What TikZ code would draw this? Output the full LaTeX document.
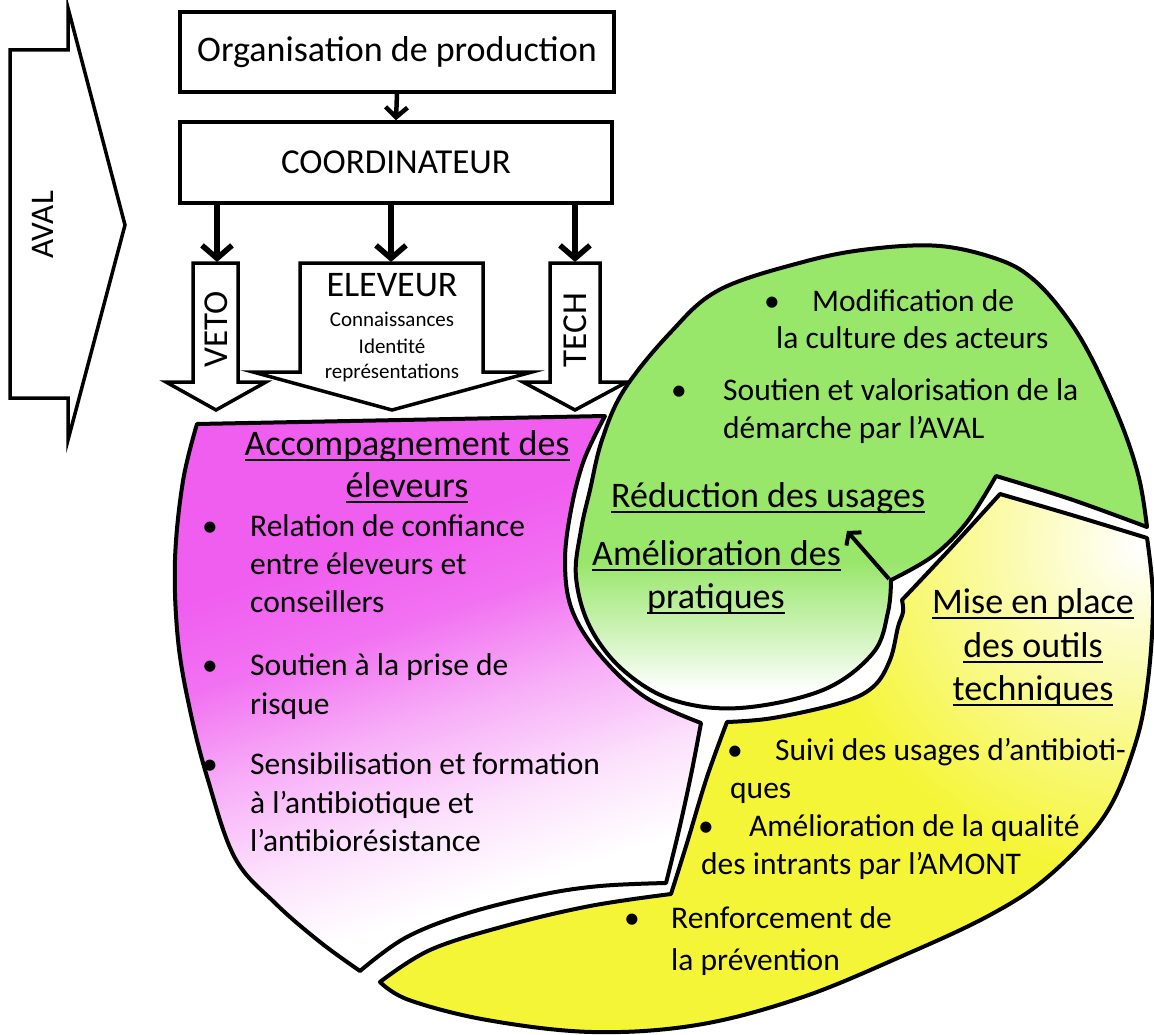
\documentclass[tikz,border=0pt]{standalone}
\usepackage{fontspec}
\setmainfont{Carlito}
\usetikzlibrary{arrows.meta}
\definecolor{mag}{RGB}{240,94,240}
\definecolor{grn}{RGB}{152,230,106}
\definecolor{ylw}{RGB}{245,245,55}
\pgfdeclareverticalshading{magfade}{100bp}{color(0bp)=(white); color(31bp)=(white); color(39bp)=(mag!18!white); color(48bp)=(mag!50!white); color(57bp)=(mag!88!white); color(65bp)=(mag); color(100bp)=(mag)}
\pgfdeclareverticalshading{grnfade}{100bp}{color(0bp)=(white); color(27bp)=(white); color(33bp)=(grn!45!white); color(41bp)=(grn); color(100bp)=(grn)}
\newcommand\myul[1]{\setbox0\hbox{#1}\rlap{\rule[-0.17em]{\wd0}{0.07em}}#1}
\newcommand\magpath{(197,424) -- (605,416)
 -- plot[smooth,tension=0.6] coordinates {(605,416) (584,460) (571,510) (565,562) (572,610) (600,655) (645,697) (701,723)}
 -- plot[smooth,tension=0.6] coordinates {(701,723) (691,775) (679,830) (666,883)}
 -- plot[smooth,tension=0.6] coordinates {(666,883) (600,886) (540,895) (465,914) (405,938) (360,971)}
 -- plot[smooth,tension=0.6] coordinates {(360,971) (320,942) (275,903) (235,858) (208,780) (190,710) (178,640) (175,560) (183,481) (197,424)}
 -- cycle}
\newcommand\grnpath{(1147,527)
 -- plot[smooth,tension=0.6] coordinates {(1147,527) (1070,499) (996,476)}
 -- plot[smooth,tension=0.6] coordinates {(996,476) (967,522) (933,556) (891,580)}
 -- plot[smooth,tension=0.6] coordinates {(891,580) (888,612) (873,653) (823,690) (740,708) (673,700) (623,670) (590,627) (576,577) (581,530) (590,490) (602,440) (624,390) (670,333) (719,290) (803,262) (870,249) (940,246) (1000,260) (1034,280) (1065,315) (1091,357) (1121,423) (1139,478) (1147,527)}
 -- cycle}
\newcommand\ylwpath{(902,600)
 -- plot[smooth,tension=0.6] coordinates {(902,600) (950,549) (1000,494)}
 -- plot[smooth,tension=0.6] coordinates {(1000,494) (1075,516) (1147,538)}
 -- plot[smooth,tension=0.6] coordinates {(1147,538) (1153,600) (1148,680) (1135,745) (1105,815) (1050,875) (990,915) (900,957) (800,998) (697,1025) (592,1032) (487,1020) (409,1000) (380,982)}
 -- plot[smooth,tension=0.6] coordinates {(380,982) (430,950) (505,926) (590,906) (671,894)}
 -- plot[smooth,tension=0.6] coordinates {(671,894) (687,843) (707,777) (727,722)}
 -- plot[smooth,tension=0.6] coordinates {(727,722) (773,718) (840,703) (873,687) (890,660) (898,627) (903,612) (902,600)}
 -- cycle}
\tikzset{
 boxed/.style={draw, line width=3.5pt, inner sep=0pt},
 blockarrow/.style={draw, fill=white, line width=3.5pt, line join=miter},
 outl/.style={draw=black, line width=4pt, line join=round},
 big/.style={font=\fontsize{36}{40}\selectfont, inner sep=0pt},
 mid/.style={font=\fontsize{31.5}{36}\selectfont, inner sep=0pt},
 small/.style={font=\fontsize{21}{24}\selectfont, inner sep=0pt},
 flow/.style={line width=5.5pt, -{Straight Barb[length=13pt,width=30pt]}},
 bw/.style={anchor=base west},
 bc/.style={anchor=base},
}
\begin{document}
\begin{tikzpicture}[x=1pt,y=-1pt]
\useasboundingbox (0,0) rectangle (1154,1035);
\fill[white] (0,0) rectangle (1154,1035);

% ---------- AVAL chevron ----------
\draw[line width=3.5pt, line join=miter] (10,50) -- (68,50) -- (68,8) -- (125,225) -- (68,440) -- (68,398) -- (10,398) -- cycle;
\node[font=\fontsize{33}{36}\selectfont, inner sep=0pt, rotate=90] (aval) at (43,225) {AVAL};

% ---------- top boxes ----------
\node[boxed, big, minimum width=434pt, minimum height=80pt] (org) at (397,52) {Organisation de production};
\node[boxed, font=\fontsize{35}{40}\selectfont, minimum width=432pt, minimum height=81pt] (coord) at (396,162.5) {COORDINATEUR};
\draw[line width=4.5pt, -{Straight Barb[length=10pt,width=22pt]}] (org.south) -- (coord.north);

% ---------- block arrows ----------
\draw[blockarrow] (193,263) -- (238,263) -- (238,382) -- (266,382) -- (216,410) -- (166,382) -- (193,382) -- cycle;
\draw[blockarrow] (300,263) -- (483,263) -- (483,372) -- (532,372) -- (392,410) -- (253,372) -- (300,372) -- cycle;
\draw[blockarrow] (550,263) -- (600,263) -- (600,382) -- (627,382) -- (575,410) -- (523,382) -- (550,382) -- cycle;
\coordinate (vetotop) at (217,262);
\coordinate (elvtop) at (391,262);
\coordinate (techtop) at (575,262);
\draw[flow] (coord.south -| vetotop) -- (vetotop);
\draw[flow] (coord.south -| elvtop) -- (elvtop);
\draw[flow] (coord.south -| techtop) -- (techtop);
\node[font=\fontsize{35}{40}\selectfont, inner sep=0pt, rotate=90] (veto) at (216,329) {VETO};
\node[font=\fontsize{35}{40}\selectfont, inner sep=0pt, rotate=90] (tech) at (575,330) {TECH};
\node[big, bc] (elv) at (392,296.5) {ELEVEUR};
\node[small, bc] (elv1) at (392,326) {Connaissances};
\node[small, bc] (elv2) at (392,353) {Identité};
\node[small, bc] (elv3) at (392,378) {représentations};

% ---------- regions ----------
\shade[shading=magfade, shading angle=18] \magpath;
\draw[outl] \magpath;
\shade[shading=grnfade] \grnpath;
\draw[outl] \grnpath;
\fill[ylw] \ylwpath;
\begin{scope}
\clip \ylwpath;
\shade[inner color=white, outer color=ylw] (1140,545) circle (330);
\end{scope}
\draw[outl] \ylwpath;

% ---------- magenta texts ----------
\node[big, bc] (acc1) at (407,455) {\myul{Accompagnement des}};
\node[big, bc] (acc2) at (407,497) {\myul{éleveurs}};
\node[mid, bw] (mb1) at (202,536.5) {•};
\node[mid, bw] (m1) at (250,536.5) {Relation de confiance};
\node[mid, bw] (m2) at (250,574.5) {entre éleveurs et};
\node[mid, bw] (m3) at (250,612.5) {conseillers};
\node[mid, bw] (mb2) at (202,675.5) {•};
\node[mid, bw] (m4) at (250,675.5) {Soutien à la prise de};
\node[mid, bw] (m5) at (250,714.5) {risque};
\node[mid, bw] (mb3) at (202,774.5) {•};
\node[mid, bw] (m6) at (250,774.5) {Sensibilisation et formation};
\node[mid, bw] (m7) at (250,813.5) {à l’antibiotique et};
\node[mid, bw] (m8) at (250,851.5) {l’antibiorésistance};

% ---------- green texts ----------
\node[mid, bw] (gb1) at (764,311.5) {•};
\node[mid, bw] (g1) at (812,311.5) {Modification de};
\node[mid, bw] (g2) at (776,348.5) {la culture des acteurs};
\node[mid, bw] (gb2) at (671,400.5) {•};
\node[mid, bw] (g3) at (723,400.5) {Soutien et valorisation de la};
\node[mid, bw] (g4) at (723,438.5) {démarche par l’AVAL};
\node[big, bw] (red) at (611,507) {\myul{Réduction des usages}};
\node[big, bw] (ame1) at (592,565) {\myul{Amélioration des}};
\node[big, bw] (ame2) at (647,608) {\myul{pratiques}};
\coordinate (arrA) at (889,579);
\coordinate (arrB) at (847,531);
\draw[line width=4pt, -{Straight Barb[length=8pt,width=20pt]}] (arrA) -- (arrB);

% ---------- yellow texts ----------
\node[big, bc] (mise1) at (1033,613) {\myul{Mise en place}};
\node[big, bc] (mise2) at (1033,657) {\myul{des outils}};
\node[big, bc] (mise3) at (1033,700) {\myul{techniques}};
\node[mid, bw] (yb1) at (727,760.5) {•};
\node[mid, bw] (y1) at (775,760.5) {Suivi des usages d’antibioti-};
\node[mid, bw] (y2) at (730,798.5) {ques};
\node[mid, bw] (yb2) at (698,836.5) {•};
\node[mid, bw] (y3) at (749,836.5) {Amélioration de la qualité};
\node[mid, bw] (y4) at (701,874.5) {des intrants par l’AMONT};
\node[mid, bw] (yb3) at (624,928.5) {•};
\node[mid, bw] (y5) at (671,928.5) {Renforcement de};
\node[mid, bw] (y6) at (671,970.5) {la prévention};
\end{tikzpicture}
\end{document}
